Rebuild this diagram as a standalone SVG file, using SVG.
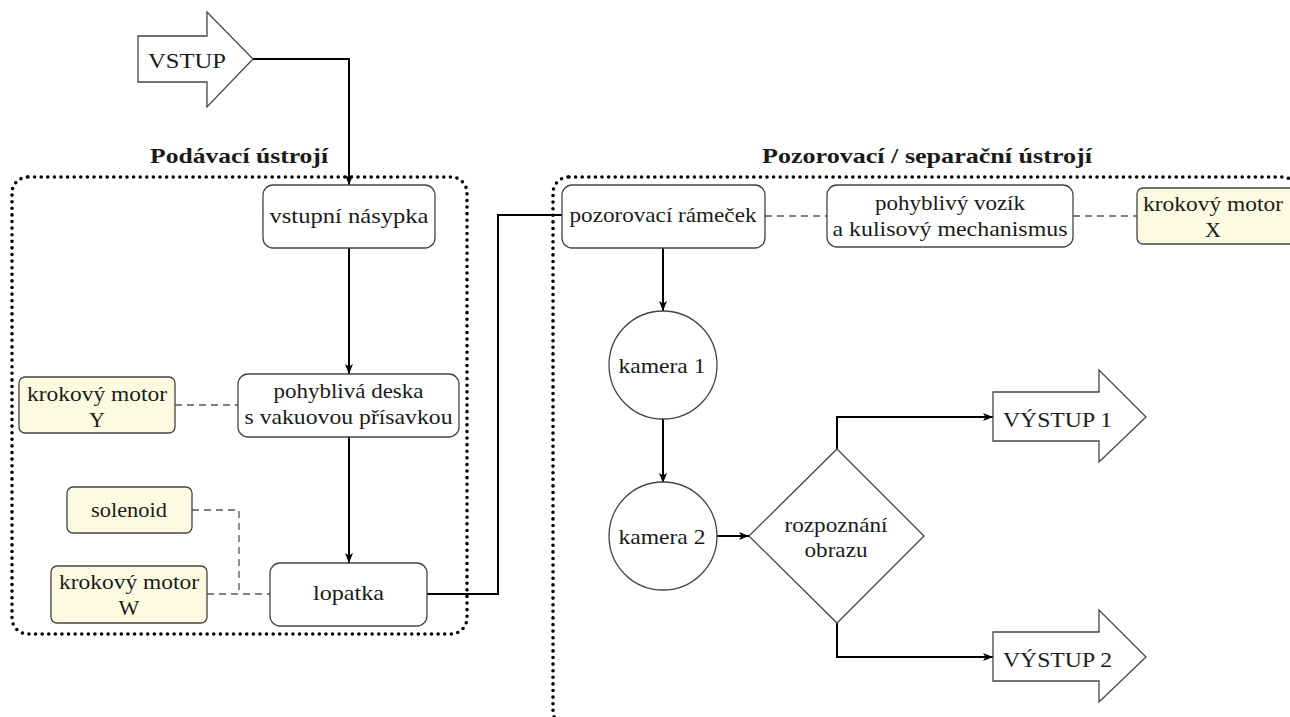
<svg xmlns="http://www.w3.org/2000/svg" width="1290" height="717" viewBox="0 0 1290 717">
<style>
text{font-size:22px;fill:#1a1a1a}
.c{text-anchor:middle}
.b{font-weight:bold}
.box{fill:#fff;stroke:#444;stroke-width:1.3}
.ybox{fill:#fcfbe1;stroke:#444;stroke-width:1.3}
.shape{fill:#fff;stroke:#444;stroke-width:1.3}
.cont{fill:none;stroke:#000;stroke-width:3.6;stroke-dasharray:0 6.6;stroke-linecap:round}
.conn{fill:none;stroke:#000;stroke-width:2}
.dash{fill:none;stroke:#555;stroke-width:1.3;stroke-dasharray:7 5}
</style>
<defs>
<marker id="ah" markerUnits="userSpaceOnUse" markerWidth="12" markerHeight="10" refX="10" refY="4" orient="auto">
<path d="M0,0 L10,4 L0,8 L2.5,4 z" fill="#000"/>
</marker>
</defs>
<g font-family="Liberation Serif, serif">
<g id="containers">
<rect class="cont" x="12" y="177" width="455" height="457" rx="16"/>
<rect class="cont" x="553" y="177" width="745" height="550" rx="16"/>
<text class="c b" x="239" y="163" textLength="178" lengthAdjust="spacingAndGlyphs">Podávací ústrojí</text>
<text class="c b" x="927" y="163" textLength="330" lengthAdjust="spacingAndGlyphs">Pozorovací / separační ústrojí</text>
</g>
<g id="connectors">
<path class="conn" d="M253 59 H349 V185" marker-end="url(#ah)"/>
<path class="conn" d="M349 248 V374" marker-end="url(#ah)"/>
<path class="conn" d="M349 437 V563" marker-end="url(#ah)"/>
<path class="conn" d="M427 594 H498 V215 H562"/>
<path class="conn" d="M663 248 V311" marker-end="url(#ah)"/>
<path class="conn" d="M663 419 V483" marker-end="url(#ah)"/>
<path class="conn" d="M716 536 H749" marker-end="url(#ah)"/>
<path class="conn" d="M837 449 V417 H993" marker-end="url(#ah)"/>
<path class="conn" d="M837 623 V657 H993" marker-end="url(#ah)"/>
<path class="dash" d="M175 405 H238"/>
<path class="dash" d="M192 510 H239 V594"/>
<path class="dash" d="M207 594 H270"/>
<path class="dash" d="M765 216 H827"/>
<path class="dash" d="M1073 216 H1137"/>
</g>
<g id="vstup">
<polygon class="shape" points="138,36 207,36 207,12 253,59 207,107 207,82 138,82"/>
<text x="148" y="68" textLength="78" lengthAdjust="spacingAndGlyphs">VSTUP</text>
</g>
<g id="nasypka">
<rect class="box" x="263" y="185" width="172" height="63" rx="10"/>
<text class="c" x="349" y="223" textLength="159" lengthAdjust="spacingAndGlyphs">vstupní násypka</text>
</g>
<g id="deska">
<rect class="box" x="238" y="374" width="221" height="63" rx="10"/>
<text class="c" x="348.5" y="398" textLength="150" lengthAdjust="spacingAndGlyphs">pohyblivá deska</text>
<text class="c" x="348.5" y="424" textLength="208" lengthAdjust="spacingAndGlyphs">s vakuovou přísavkou</text>
</g>
<g id="motorY">
<rect class="ybox" x="19" y="377" width="156" height="56" rx="6"/>
<text class="c" x="97" y="401" textLength="140" lengthAdjust="spacingAndGlyphs">krokový motor</text>
<text class="c" x="97" y="427">Y</text>
</g>
<g id="solenoid">
<rect class="ybox" x="67" y="487" width="125" height="46" rx="6"/>
<text class="c" x="129" y="517" textLength="76" lengthAdjust="spacingAndGlyphs">solenoid</text>
</g>
<g id="motorW">
<rect class="ybox" x="51" y="566" width="156" height="57" rx="6"/>
<text class="c" x="129" y="589" textLength="140" lengthAdjust="spacingAndGlyphs">krokový motor</text>
<text class="c" x="129" y="615">W</text>
</g>
<g id="lopatka">
<rect class="box" x="270" y="563" width="157" height="63" rx="10"/>
<text class="c" x="348.5" y="600" textLength="71" lengthAdjust="spacingAndGlyphs">lopatka</text>
</g>
<g id="ramecek">
<rect class="box" x="562" y="185" width="203" height="63" rx="10"/>
<text class="c" x="663" y="222" textLength="187" lengthAdjust="spacingAndGlyphs">pozorovací rámeček</text>
</g>
<g id="vozik">
<rect class="box" x="827" y="185" width="246" height="62" rx="10"/>
<text class="c" x="950" y="210" textLength="150" lengthAdjust="spacingAndGlyphs">pohyblivý vozík</text>
<text class="c" x="950" y="236" textLength="235" lengthAdjust="spacingAndGlyphs">a kulisový mechanismus</text>
</g>
<g id="motorX">
<rect class="ybox" x="1137" y="188" width="165" height="56" rx="6"/>
<text class="c" x="1213" y="211" textLength="140" lengthAdjust="spacingAndGlyphs">krokový motor</text>
<text class="c" x="1213" y="237">X</text>
</g>
<g id="kamera1">
<circle class="shape" cx="663" cy="365" r="54"/>
<text class="c" x="662" y="373" textLength="87" lengthAdjust="spacingAndGlyphs">kamera 1</text>
</g>
<g id="kamera2">
<circle class="shape" cx="663" cy="536" r="54"/>
<text class="c" x="662" y="544" textLength="87" lengthAdjust="spacingAndGlyphs">kamera 2</text>
</g>
<g id="rozpoznani">
<polygon class="shape" points="837,449 924,536 837,623 749,536"/>
<text class="c" x="836" y="532" textLength="103" lengthAdjust="spacingAndGlyphs">rozpoznání</text>
<text class="c" x="836" y="557" textLength="63" lengthAdjust="spacingAndGlyphs">obrazu</text>
</g>
<g id="vystup1">
<polygon class="shape" points="993,392 1099,392 1099,370 1146,417 1099,462 1099,441 993,441"/>
<text x="1003" y="427" textLength="109" lengthAdjust="spacingAndGlyphs">VÝSTUP 1</text>
</g>
<g id="vystup2">
<polygon class="shape" points="993,632 1099,632 1099,610 1146,657 1099,702 1099,681 993,681"/>
<text x="1003" y="667" textLength="109" lengthAdjust="spacingAndGlyphs">VÝSTUP 2</text>
</g>
</g>
</svg>
